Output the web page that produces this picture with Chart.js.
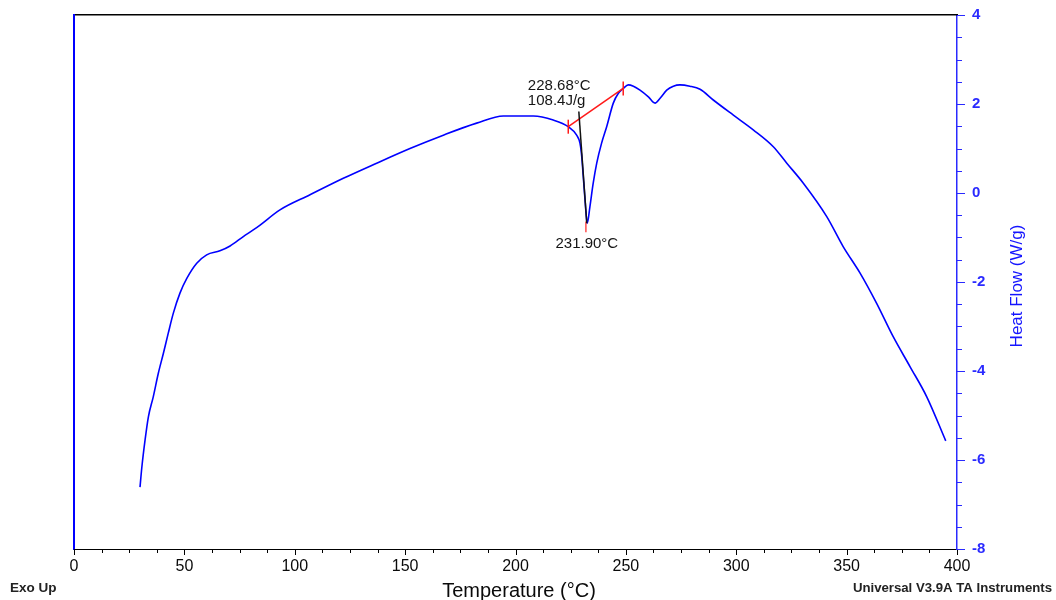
<!DOCTYPE html>
<html>
<head>
<meta charset="utf-8">
<script src="https://cdn.jsdelivr.net/npm/chart.js@4.4.1/dist/chart.umd.min.js"></script>
<style>
  html, body { margin: 0; padding: 0; background: #ffffff; }
  #wrap { width: 1056px; height: 600px; }
</style>
</head>
<body>
<div id="wrap"><canvas id="c" width="1056" height="600"></canvas></div>
<script>
// ---- data ----
const temperature = [29.9, 30.7, 32.2, 33.7, 35.9, 38.2, 40.5, 42.7, 45.0, 48.0, 51.1, 55.6, 60.1, 66.1, 70.7, 76.7, 81.2, 84.3, 93.3, 106.9, 122.0, 137.1, 152.2, 167.3, 182.4, 194.5, 208.1, 217.1, 223.9, 227.7, 229.2, 230.0, 230.7, 231.5, 232.3, 232.5, 233.7, 235.2, 236.8, 239.0, 241.3, 244.3, 246.6, 248.8, 251.1, 253.4, 256.4, 260.2, 263.2, 265.5, 268.5, 271.5, 274.5, 279.0, 283.6, 289.6, 298.7, 307.7, 316.8, 322.9, 330.4, 341.0, 348.5, 356.1, 363.6, 371.1, 378.7, 386.3, 394.9];
const heatFlow = [-6.61, -6.18, -5.55, -5.03, -4.58, -4.05, -3.60, -3.15, -2.70, -2.25, -1.92, -1.58, -1.39, -1.30, -1.19, -0.98, -0.83, -0.72, -0.38, -0.04, 0.33, 0.67, 1.00, 1.30, 1.57, 1.73, 1.73, 1.64, 1.49, 1.30, 1.12, 0.82, 0.37, -0.16, -0.64, -0.68, -0.31, 0.22, 0.67, 1.12, 1.49, 2.02, 2.24, 2.35, 2.43, 2.40, 2.31, 2.16, 2.02, 2.13, 2.31, 2.40, 2.43, 2.40, 2.33, 2.09, 1.75, 1.42, 1.04, 0.67, 0.22, -0.53, -1.21, -1.80, -2.48, -3.23, -3.90, -4.58, -5.57];

// integration baseline (red) and onset tangent (black), peak marker (red)
const baselineT = [223.9, 248.8];
const baselineHF = [1.49, 2.35];
const onsetT = [228.68, 232.3];
const onsetHF = [1.83, -0.68];
const peakT = [231.9, 231.9];
const peakHF = [-0.64, -0.88];

// annotation texts
const onsetLabel = ["228.68°C", "108.4J/g"];
const peakLabel = "231.90°C";

// axis ranges / ticks
const xTickValues = [0, 50, 100, 150, 200, 250, 300, 350, 400];
const yTickValues = [-8, -6, -4, -2, 0, 2, 4];
const xMinorStep = 12.5;
const yMinorStep = 0.5;

const FONT = "'Liberation Sans', Arial, Helvetica, sans-serif";
const BLUE = '#0000ff';
const AXBLUE = '#2a2aff';

function pts(xs, ys) { return xs.map((x, i) => ({ x: x, y: ys[i] })); }

const extras = {
  id: 'extras',
  afterDraw(chart) {
    const ctx = chart.ctx;
    const xs = chart.scales.x, ys = chart.scales.y;
    const ca = chart.chartArea;
    ctx.save();
    // minor + major tick marks, bottom axis
    ctx.strokeStyle = '#000';
    ctx.lineWidth = 1;
    ctx.beginPath();
    for (let v = xs.min; v <= xs.max + 1e-9; v += xMinorStep) {
      const px = Math.round(xs.getPixelForValue(v)) + 0.5;
      const major = xTickValues.indexOf(v) >= 0;
      ctx.moveTo(px, ca.bottom);
      ctx.lineTo(px, ca.bottom + (major ? 6 : 4));
    }
    ctx.stroke();
    // right axis ticks
    ctx.strokeStyle = AXBLUE;
    ctx.beginPath();
    for (let v = ys.min; v <= ys.max + 1e-9; v += yMinorStep) {
      const py = Math.round(ys.getPixelForValue(v)) + 0.5;
      const major = yTickValues.indexOf(v) >= 0;
      ctx.moveTo(ca.right, py);
      ctx.lineTo(ca.right + (major ? 8 : 5), py);
    }
    ctx.stroke();

    // annotation texts
    ctx.fillStyle = '#151515';
    ctx.font = '15px ' + FONT;
    ctx.textBaseline = 'middle';
    ctx.textAlign = 'left';
    const lx = xs.getPixelForValue(205.6);
    ctx.fillText(onsetLabel[0], lx, ys.getPixelForValue(2.41));
    ctx.fillText(onsetLabel[1], lx, ys.getPixelForValue(2.07));
    ctx.textAlign = 'center';
    ctx.fillText(peakLabel, xs.getPixelForValue(232.3), ys.getPixelForValue(-1.15));

    // axis titles and footers
    ctx.fillStyle = '#0a0a0a';
    ctx.font = '20px ' + FONT;
    ctx.textAlign = 'center';
    ctx.fillText('Temperature (°C)', 519, 591);

    ctx.save();
    ctx.translate(1017, 286);
    ctx.rotate(-Math.PI / 2);
    ctx.fillStyle = '#1414ff';
    ctx.font = '17px ' + FONT;
    ctx.fillText('Heat Flow (W/g)', 0, 0);
    ctx.restore();

    ctx.fillStyle = '#222';
    ctx.font = 'bold 13.5px ' + FONT;
    ctx.textAlign = 'left';
    ctx.fillText('Exo Up', 10, 588);
    ctx.font = 'bold 13.2px ' + FONT;
    ctx.textAlign = 'right';
    ctx.fillText('Universal V3.9A TA Instruments', 1052, 588);
    ctx.restore();
  }
};

new Chart(document.getElementById('c'), {
  type: 'scatter',
  data: {
    datasets: [
      {
        label: 'onset', data: pts(onsetT, onsetHF), showLine: true,
        borderColor: '#111', borderWidth: 1.5, pointRadius: 0, order: 1
      },
      {
        label: 'peak', data: pts(peakT, peakHF), showLine: true,
        borderColor: '#ff2020', borderWidth: 1.2, pointRadius: 0, order: 2
      },
      {
        label: 'baseline', data: pts(baselineT, baselineHF), showLine: true,
        borderColor: '#ff1a1a', borderWidth: 1.5,
        pointStyle: 'line', rotation: 90, pointRadius: 7, pointBorderWidth: 1.5,
        pointBorderColor: '#ff1a1a', order: 3
      },
      {
        label: 'Heat Flow', data: pts(temperature, heatFlow), showLine: true,
        borderColor: BLUE, borderWidth: 1.6, pointRadius: 0,
        cubicInterpolationMode: 'monotone', order: 4
      }
    ]
  },
  options: {
    responsive: false,
    animation: false,
    devicePixelRatio: 1,
    layout: { padding: { left: 74, top: 15, right: 0, bottom: 0 } },
    plugins: { legend: { display: false }, tooltip: { enabled: false } },
    scales: {
      x: {
        type: 'linear', position: 'bottom', min: 0, max: 400,
        afterFit(s) { s.height = 51; s.paddingLeft = 0; s.paddingRight = 0; },
        grid: { display: false, drawTicks: false },
        border: { display: true, color: '#000', width: 1 },
        ticks: {
          stepSize: 50, padding: 8, maxRotation: 0, autoSkip: false,
          color: '#0a0a0a', font: { family: FONT, size: 16 }
        }
      },
      y: {
        type: 'linear', position: 'right', min: -8, max: 4,
        afterFit(s) { s.width = 99; s.paddingTop = 0; s.paddingBottom = 0; },
        grid: { display: false, drawTicks: false },
        border: { display: true, color: AXBLUE, width: 1.5 },
        ticks: {
          stepSize: 2, padding: 15, color: AXBLUE,
          font: { family: FONT, size: 15, weight: 'bold' }
        }
      },
      xTop: {
        type: 'linear', position: 'top', min: 0, max: 400,
        afterFit(s) { s.height = 0; s.paddingLeft = 0; s.paddingRight = 0; },
        grid: { display: false, drawTicks: false },
        border: { display: true, color: '#000', width: 1.5 },
        ticks: { display: false }
      },
      yLeft: {
        type: 'linear', position: 'left', min: -8, max: 4,
        afterFit(s) { s.width = 0; s.paddingTop = 0; s.paddingBottom = 0; },
        grid: { display: false, drawTicks: false },
        border: { display: true, color: BLUE, width: 2 },
        ticks: { display: false }
      }
    }
  },
  plugins: [extras]
});
</script>
</body>
</html>
